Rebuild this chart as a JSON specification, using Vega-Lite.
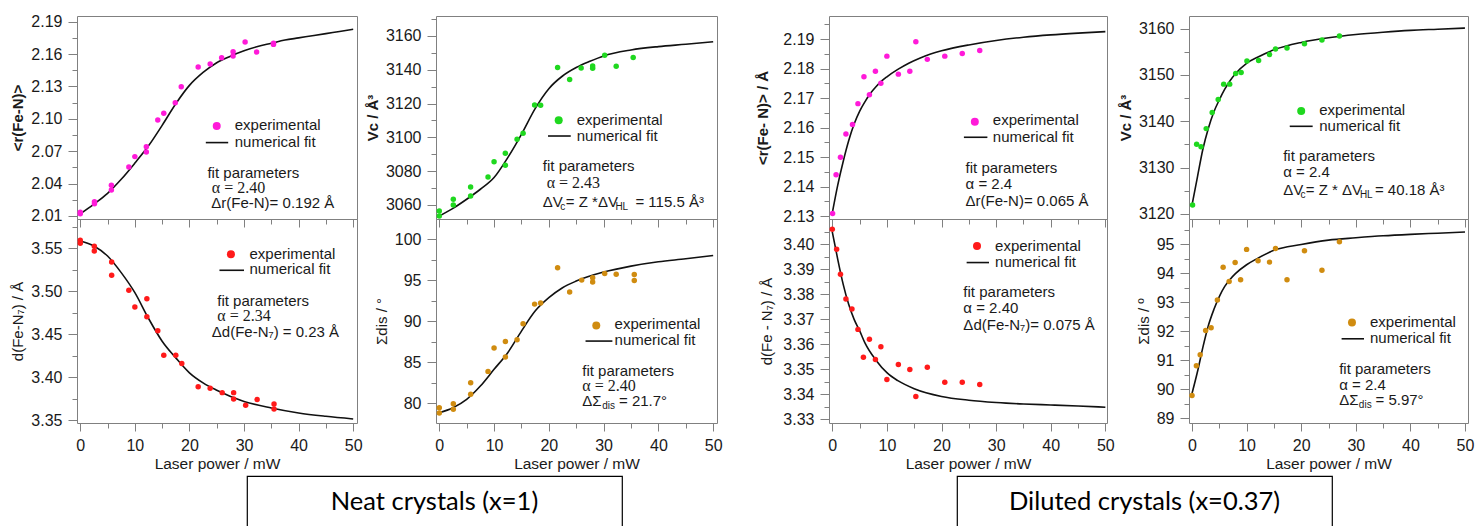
{
  "$schema": "https://vega.github.io/schema/vega-lite/v6.json",
  "padding": {"left": 10, "top": 13, "right": 5, "bottom": 0},
  "config": {
    "font": "Liberation Sans",
    "view": {"stroke": "#808080", "strokeWidth": 1},
    "axis": {"domain": false, "grid": false, "tickColor": "#808080", "tickWidth": 1, "labelColor": "#1a1a1a", "labelFont": "Liberation Sans", "labelFontSize": 16, "titleFont": "Liberation Sans", "titleFontSize": 15, "titleColor": "#1a1a1a", "titleFontWeight": "normal"},
    "axisY": {"labelPadding": 6, "titlePadding": 5},
    "axisX": {"labelPadding": 6, "titlePadding": 3, "titleFontSize": 15.5},
    "text": {"font": "Liberation Sans", "fontSize": 15, "color": "#1a1a1a", "align": "left", "baseline": "middle"},
    "line": {"color": "#111", "strokeWidth": 1.6, "interpolate": "monotone"},
    "rule": {"color": "#111", "strokeWidth": 1.6},
    "point": {"filled": true, "opacity": 1, "size": 30}
  },
  "datasets": {
    "pts": [
      {"p": "A", "x": 0, "y": 2.012}, {"p": "A", "x": 0, "y": 2.0135}, {"p": "A", "x": 2.6, "y": 2.0233}, {"p": "A", "x": 2.6, "y": 2.0214},
      {"p": "A", "x": 5.7, "y": 2.0384}, {"p": "A", "x": 5.7, "y": 2.0341}, {"p": "A", "x": 8.9, "y": 2.0554}, {"p": "A", "x": 10.0, "y": 2.065},
      {"p": "A", "x": 12.1, "y": 2.0742}, {"p": "A", "x": 12.1, "y": 2.0693}, {"p": "A", "x": 14.2, "y": 2.0989}, {"p": "A", "x": 15.3, "y": 2.1051},
      {"p": "A", "x": 17.4, "y": 2.115}, {"p": "A", "x": 18.5, "y": 2.1298}, {"p": "A", "x": 21.6, "y": 2.148}, {"p": "A", "x": 23.8, "y": 2.1508},
      {"p": "A", "x": 25.9, "y": 2.1567}, {"p": "A", "x": 28.0, "y": 2.1622}, {"p": "A", "x": 28.0, "y": 2.1582}, {"p": "A", "x": 30.2, "y": 2.1712},
      {"p": "A", "x": 32.3, "y": 2.1619}, {"p": "A", "x": 35.4, "y": 2.170}, {"p": "A", "x": 35.4, "y": 2.169},

      {"p": "B", "x": 0, "y": 3056.4}, {"p": "B", "x": 0, "y": 3053.5}, {"p": "B", "x": 2.56, "y": 3063.4}, {"p": "B", "x": 2.56, "y": 3060.0},
      {"p": "B", "x": 5.72, "y": 3070.6}, {"p": "B", "x": 5.72, "y": 3065.3}, {"p": "B", "x": 8.9, "y": 3076.6}, {"p": "B", "x": 10.0, "y": 3085.6},
      {"p": "B", "x": 12.06, "y": 3090.6}, {"p": "B", "x": 12.06, "y": 3083.5}, {"p": "B", "x": 14.2, "y": 3098.9}, {"p": "B", "x": 15.3, "y": 3102.4},
      {"p": "B", "x": 17.4, "y": 3119.2}, {"p": "B", "x": 18.5, "y": 3119.0}, {"p": "B", "x": 21.6, "y": 3141.3}, {"p": "B", "x": 23.8, "y": 3134.2},
      {"p": "B", "x": 25.9, "y": 3141.1}, {"p": "B", "x": 28.0, "y": 3142.2}, {"p": "B", "x": 28.0, "y": 3140.9}, {"p": "B", "x": 30.2, "y": 3148.6},
      {"p": "B", "x": 32.3, "y": 3142.1}, {"p": "B", "x": 35.4, "y": 3147.2},

      {"p": "C", "x": 0.06, "y": 2.1309}, {"p": "C", "x": 0.7, "y": 2.144}, {"p": "C", "x": 1.5, "y": 2.1499}, {"p": "C", "x": 2.5, "y": 2.1578},
      {"p": "C", "x": 3.7, "y": 2.161}, {"p": "C", "x": 4.7, "y": 2.1681}, {"p": "C", "x": 5.8, "y": 2.1772}, {"p": "C", "x": 6.8, "y": 2.1711},
      {"p": "C", "x": 7.9, "y": 2.1791}, {"p": "C", "x": 8.9, "y": 2.175}, {"p": "C", "x": 10.0, "y": 2.1842}, {"p": "C", "x": 12.1, "y": 2.1781},
      {"p": "C", "x": 14.2, "y": 2.1791}, {"p": "C", "x": 15.3, "y": 2.1891}, {"p": "C", "x": 17.4, "y": 2.1831}, {"p": "C", "x": 20.6, "y": 2.1842},
      {"p": "C", "x": 23.8, "y": 2.1851}, {"p": "C", "x": 27.0, "y": 2.1861},

      {"p": "D", "x": 0.1, "y": 3121.9}, {"p": "D", "x": 0.85, "y": 3135.05}, {"p": "D", "x": 1.65, "y": 3134.5}, {"p": "D", "x": 2.6, "y": 3138.4},
      {"p": "D", "x": 3.7, "y": 3141.9}, {"p": "D", "x": 4.8, "y": 3144.7}, {"p": "D", "x": 5.8, "y": 3148.0}, {"p": "D", "x": 6.9, "y": 3148.0},
      {"p": "D", "x": 8.0, "y": 3150.3}, {"p": "D", "x": 9.0, "y": 3150.5}, {"p": "D", "x": 10.06, "y": 3153.0}, {"p": "D", "x": 12.2, "y": 3153.1},
      {"p": "D", "x": 14.2, "y": 3154.4}, {"p": "D", "x": 15.3, "y": 3155.6}, {"p": "D", "x": 17.4, "y": 3155.8}, {"p": "D", "x": 20.6, "y": 3156.7},
      {"p": "D", "x": 23.8, "y": 3157.5}, {"p": "D", "x": 27.0, "y": 3158.4},

      {"p": "E", "x": 0, "y": 3.5593}, {"p": "E", "x": 0, "y": 3.5558}, {"p": "E", "x": 2.57, "y": 3.5523}, {"p": "E", "x": 2.57, "y": 3.5469},
      {"p": "E", "x": 5.75, "y": 3.5341}, {"p": "E", "x": 5.75, "y": 3.5185}, {"p": "E", "x": 8.9, "y": 3.5011}, {"p": "E", "x": 10.0, "y": 3.4817},
      {"p": "E", "x": 12.2, "y": 3.4914}, {"p": "E", "x": 12.2, "y": 3.4704}, {"p": "E", "x": 14.2, "y": 3.4541}, {"p": "E", "x": 15.3, "y": 3.4257},
      {"p": "E", "x": 17.5, "y": 3.4257}, {"p": "E", "x": 18.6, "y": 3.416}, {"p": "E", "x": 21.6, "y": 3.3889}, {"p": "E", "x": 23.8, "y": 3.3873},
      {"p": "E", "x": 26.0, "y": 3.3822}, {"p": "E", "x": 28.1, "y": 3.3822}, {"p": "E", "x": 28.1, "y": 3.3749}, {"p": "E", "x": 30.3, "y": 3.3675},
      {"p": "E", "x": 32.4, "y": 3.3741}, {"p": "E", "x": 35.5, "y": 3.369}, {"p": "E", "x": 35.5, "y": 3.3632},

      {"p": "F", "x": 0, "y": 79.47}, {"p": "F", "x": 0, "y": 78.82}, {"p": "F", "x": 2.56, "y": 79.96}, {"p": "F", "x": 2.56, "y": 79.27},
      {"p": "F", "x": 5.73, "y": 82.52}, {"p": "F", "x": 5.73, "y": 81.10}, {"p": "F", "x": 8.9, "y": 83.90}, {"p": "F", "x": 10.0, "y": 86.75},
      {"p": "F", "x": 12.07, "y": 87.56}, {"p": "F", "x": 12.07, "y": 85.65}, {"p": "F", "x": 14.2, "y": 87.76}, {"p": "F", "x": 15.3, "y": 89.72},
      {"p": "F", "x": 17.4, "y": 92.11}, {"p": "F", "x": 18.5, "y": 92.24}, {"p": "F", "x": 21.6, "y": 96.54}, {"p": "F", "x": 23.8, "y": 93.58},
      {"p": "F", "x": 26.0, "y": 95.04}, {"p": "F", "x": 28.0, "y": 95.33}, {"p": "F", "x": 28.0, "y": 94.80}, {"p": "F", "x": 30.2, "y": 95.85},
      {"p": "F", "x": 32.3, "y": 95.77}, {"p": "F", "x": 35.6, "y": 95.73}, {"p": "F", "x": 35.6, "y": 95.0},

      {"p": "G", "x": 0, "y": 3.406}, {"p": "G", "x": 0.8, "y": 3.398}, {"p": "G", "x": 1.5, "y": 3.388}, {"p": "G", "x": 2.5, "y": 3.3781},
      {"p": "G", "x": 3.6, "y": 3.3741}, {"p": "G", "x": 4.7, "y": 3.366}, {"p": "G", "x": 5.7, "y": 3.3549}, {"p": "G", "x": 6.8, "y": 3.3621},
      {"p": "G", "x": 7.9, "y": 3.354}, {"p": "G", "x": 8.9, "y": 3.3591}, {"p": "G", "x": 10.0, "y": 3.346}, {"p": "G", "x": 12.1, "y": 3.352},
      {"p": "G", "x": 14.2, "y": 3.35}, {"p": "G", "x": 15.3, "y": 3.3392}, {"p": "G", "x": 17.4, "y": 3.3509}, {"p": "G", "x": 20.6, "y": 3.3449},
      {"p": "G", "x": 23.8, "y": 3.3449}, {"p": "G", "x": 27.0, "y": 3.344},

      {"p": "H", "x": 0, "y": 89.78}, {"p": "H", "x": 0.8, "y": 90.81}, {"p": "H", "x": 1.5, "y": 91.19}, {"p": "H", "x": 2.5, "y": 92.03},
      {"p": "H", "x": 3.5, "y": 92.12}, {"p": "H", "x": 4.65, "y": 93.08}, {"p": "H", "x": 5.7, "y": 94.21}, {"p": "H", "x": 6.8, "y": 93.72},
      {"p": "H", "x": 7.9, "y": 94.38}, {"p": "H", "x": 8.9, "y": 93.78}, {"p": "H", "x": 10.0, "y": 94.83}, {"p": "H", "x": 12.1, "y": 94.44},
      {"p": "H", "x": 14.2, "y": 94.39}, {"p": "H", "x": 15.3, "y": 94.86}, {"p": "H", "x": 17.4, "y": 93.78}, {"p": "H", "x": 20.6, "y": 94.78},
      {"p": "H", "x": 23.8, "y": 94.11}, {"p": "H", "x": 27.0, "y": 95.09}
    ],
    "fit": [
      {"p": "A", "x": 0, "y": 2.012}, {"p": "A", "x": 2.5, "y": 2.021}, {"p": "A", "x": 5, "y": 2.031}, {"p": "A", "x": 7.5, "y": 2.044},
      {"p": "A", "x": 10, "y": 2.059}, {"p": "A", "x": 12.5, "y": 2.075}, {"p": "A", "x": 15, "y": 2.094}, {"p": "A", "x": 17.5, "y": 2.114},
      {"p": "A", "x": 20, "y": 2.131}, {"p": "A", "x": 22.5, "y": 2.143}, {"p": "A", "x": 25, "y": 2.152}, {"p": "A", "x": 27.5, "y": 2.158},
      {"p": "A", "x": 30, "y": 2.163}, {"p": "A", "x": 32.5, "y": 2.167}, {"p": "A", "x": 35, "y": 2.170}, {"p": "A", "x": 37.5, "y": 2.173},
      {"p": "A", "x": 40, "y": 2.175}, {"p": "A", "x": 42.5, "y": 2.177}, {"p": "A", "x": 45, "y": 2.179}, {"p": "A", "x": 47.5, "y": 2.181},
      {"p": "A", "x": 50, "y": 2.183},

      {"p": "B", "x": 0, "y": 3053.5}, {"p": "B", "x": 2.5, "y": 3058.0}, {"p": "B", "x": 5, "y": 3063.4}, {"p": "B", "x": 7.5, "y": 3069.3},
      {"p": "B", "x": 10, "y": 3076.2}, {"p": "B", "x": 12.5, "y": 3088.0}, {"p": "B", "x": 15, "y": 3101.8}, {"p": "B", "x": 17.5, "y": 3117.0},
      {"p": "B", "x": 20, "y": 3128.8}, {"p": "B", "x": 22.5, "y": 3136.3}, {"p": "B", "x": 25, "y": 3141.3}, {"p": "B", "x": 27.5, "y": 3145.0},
      {"p": "B", "x": 30, "y": 3148.2}, {"p": "B", "x": 35, "y": 3151.7}, {"p": "B", "x": 40, "y": 3153.7}, {"p": "B", "x": 45, "y": 3155.1},
      {"p": "B", "x": 50, "y": 3156.6},

      {"p": "C", "x": 0, "y": 2.131}, {"p": "C", "x": 1, "y": 2.1405}, {"p": "C", "x": 2, "y": 2.1485}, {"p": "C", "x": 3, "y": 2.1555},
      {"p": "C", "x": 4, "y": 2.1612}, {"p": "C", "x": 5, "y": 2.1655}, {"p": "C", "x": 6, "y": 2.1688}, {"p": "C", "x": 7, "y": 2.1716},
      {"p": "C", "x": 8, "y": 2.1738}, {"p": "C", "x": 9, "y": 2.1757}, {"p": "C", "x": 10, "y": 2.1772}, {"p": "C", "x": 12, "y": 2.1797},
      {"p": "C", "x": 14, "y": 2.1818}, {"p": "C", "x": 16, "y": 2.1835}, {"p": "C", "x": 18, "y": 2.1849}, {"p": "C", "x": 20, "y": 2.186},
      {"p": "C", "x": 25, "y": 2.188}, {"p": "C", "x": 30, "y": 2.1895}, {"p": "C", "x": 35, "y": 2.1906}, {"p": "C", "x": 40, "y": 2.1914},
      {"p": "C", "x": 45, "y": 2.192}, {"p": "C", "x": 50, "y": 2.1925},

      {"p": "D", "x": 0, "y": 3121.9}, {"p": "D", "x": 1, "y": 3128.0}, {"p": "D", "x": 2, "y": 3134.0}, {"p": "D", "x": 3, "y": 3138.5},
      {"p": "D", "x": 4, "y": 3142.0}, {"p": "D", "x": 5, "y": 3144.6}, {"p": "D", "x": 6, "y": 3146.9}, {"p": "D", "x": 7, "y": 3148.8},
      {"p": "D", "x": 8, "y": 3150.3}, {"p": "D", "x": 10, "y": 3152.5}, {"p": "D", "x": 12, "y": 3153.8}, {"p": "D", "x": 15, "y": 3155.4},
      {"p": "D", "x": 20, "y": 3157.0}, {"p": "D", "x": 25, "y": 3158.0}, {"p": "D", "x": 30, "y": 3158.7}, {"p": "D", "x": 35, "y": 3159.2},
      {"p": "D", "x": 40, "y": 3159.6}, {"p": "D", "x": 45, "y": 3159.85}, {"p": "D", "x": 50, "y": 3160.1},

      {"p": "E", "x": 0, "y": 3.5585}, {"p": "E", "x": 2.5, "y": 3.5527}, {"p": "E", "x": 5, "y": 3.541}, {"p": "E", "x": 7.5, "y": 3.5217},
      {"p": "E", "x": 10, "y": 3.4984}, {"p": "E", "x": 12.5, "y": 3.4685}, {"p": "E", "x": 15, "y": 3.442}, {"p": "E", "x": 17.5, "y": 3.4226},
      {"p": "E", "x": 20, "y": 3.4052}, {"p": "E", "x": 22.5, "y": 3.3935}, {"p": "E", "x": 25, "y": 3.385}, {"p": "E", "x": 30, "y": 3.372},
      {"p": "E", "x": 35, "y": 3.3644}, {"p": "E", "x": 40, "y": 3.3586}, {"p": "E", "x": 45, "y": 3.3547}, {"p": "E", "x": 50, "y": 3.3516},

      {"p": "F", "x": 0, "y": 78.86}, {"p": "F", "x": 2.5, "y": 79.47}, {"p": "F", "x": 5, "y": 80.49}, {"p": "F", "x": 7.5, "y": 82.11},
      {"p": "F", "x": 10, "y": 84.15}, {"p": "F", "x": 12.5, "y": 86.18}, {"p": "F", "x": 15, "y": 88.82}, {"p": "F", "x": 17.5, "y": 91.26},
      {"p": "F", "x": 20, "y": 92.89}, {"p": "F", "x": 22.5, "y": 94.11}, {"p": "F", "x": 25, "y": 94.92}, {"p": "F", "x": 30, "y": 96.02},
      {"p": "F", "x": 35, "y": 96.75}, {"p": "F", "x": 40, "y": 97.28}, {"p": "F", "x": 45, "y": 97.64}, {"p": "F", "x": 50, "y": 98.05},

      {"p": "G", "x": 0, "y": 3.405}, {"p": "G", "x": 1, "y": 3.394}, {"p": "G", "x": 2, "y": 3.384}, {"p": "G", "x": 3, "y": 3.376},
      {"p": "G", "x": 4, "y": 3.370}, {"p": "G", "x": 5, "y": 3.3655}, {"p": "G", "x": 6, "y": 3.3605}, {"p": "G", "x": 8, "y": 3.3537},
      {"p": "G", "x": 10, "y": 3.3487}, {"p": "G", "x": 12, "y": 3.3455}, {"p": "G", "x": 15, "y": 3.3423}, {"p": "G", "x": 20, "y": 3.3392},
      {"p": "G", "x": 25, "y": 3.3377}, {"p": "G", "x": 30, "y": 3.3368}, {"p": "G", "x": 35, "y": 3.3362}, {"p": "G", "x": 40, "y": 3.3358},
      {"p": "G", "x": 45, "y": 3.3354}, {"p": "G", "x": 50, "y": 3.3349},

      {"p": "H", "x": 0, "y": 89.85}, {"p": "H", "x": 1, "y": 90.6}, {"p": "H", "x": 2, "y": 91.45}, {"p": "H", "x": 3, "y": 92.2},
      {"p": "H", "x": 4, "y": 92.75}, {"p": "H", "x": 5, "y": 93.2}, {"p": "H", "x": 6, "y": 93.55}, {"p": "H", "x": 7, "y": 93.8},
      {"p": "H", "x": 8, "y": 94.0}, {"p": "H", "x": 10, "y": 94.3}, {"p": "H", "x": 12, "y": 94.52}, {"p": "H", "x": 15, "y": 94.8},
      {"p": "H", "x": 20, "y": 95.0}, {"p": "H", "x": 25, "y": 95.15}, {"p": "H", "x": 30, "y": 95.23}, {"p": "H", "x": 35, "y": 95.3},
      {"p": "H", "x": 40, "y": 95.35}, {"p": "H", "x": 45, "y": 95.39}, {"p": "H", "x": 50, "y": 95.43}
    ],
    "notes": [
      {"p": "A", "x": 28.3, "y": 2.094, "t": "experimental"}, {"p": "A", "x": 28.3, "y": 2.0789, "t": "numerical fit"},
      {"p": "A", "x": 23.3, "y": 2.0497, "t": "fit parameters"},
      {"p": "A", "x": 24.0, "y": 2.0220, "t": "Δr(Fe-N)= 0.192 Å"},
      {"p": "B", "x": 25.1, "y": 3110.1, "t": "experimental"}, {"p": "B", "x": 25.1, "y": 3100.8, "t": "numerical fit"},
      {"p": "B", "x": 18.9, "y": 3083.2, "t": "fit parameters"},
      {"p": "B", "x": 18.9, "y": 3062.0, "t": "ΔV"}, {"p": "B", "x": 23.1, "y": 3062.0, "t": "= Z *ΔV"}, {"p": "B", "x": 35.8, "y": 3062.0, "t": "= 115.5 Å³"},
      {"p": "C", "x": 29.4, "y": 2.1624, "t": "experimental"}, {"p": "C", "x": 29.4, "y": 2.1569, "t": "numerical fit"},
      {"p": "C", "x": 24.4, "y": 2.1463, "t": "fit parameters"}, {"p": "C", "x": 24.4, "y": 2.141, "t": "α = 2.4"},
      {"p": "C", "x": 24.4, "y": 2.1351, "t": "Δr(Fe-N)= 0.065 Å"},
      {"p": "D", "x": 23.3, "y": 3142.4, "t": "experimental"}, {"p": "D", "x": 23.3, "y": 3138.9, "t": "numerical fit"},
      {"p": "D", "x": 16.7, "y": 3132.4, "t": "fit parameters"}, {"p": "D", "x": 16.7, "y": 3129.0, "t": "α = 2.4"},
      {"p": "D", "x": 16.7, "y": 3125.1, "t": "ΔV"}, {"p": "D", "x": 20.85, "y": 3125.1, "t": "=  Z * ΔV"}, {"p": "D", "x": 33.5, "y": 3125.1, "t": "= 40.18 Å³"},
      {"p": "E", "x": 31.0, "y": 3.5438, "t": "experimental"}, {"p": "E", "x": 31.0, "y": 3.5255, "t": "numerical fit"},
      {"p": "E", "x": 25.1, "y": 3.4885, "t": "fit parameters"},
      {"p": "E", "x": 24.1, "y": 3.4530, "t": "Δd(Fe-N₇) = 0.23 Å"},
      {"p": "F", "x": 32.0, "y": 89.63, "t": "experimental"}, {"p": "F", "x": 32.0, "y": 87.68, "t": "numerical fit"},
      {"p": "F", "x": 26.1, "y": 83.9, "t": "fit parameters"},
      {"p": "F", "x": 26.1, "y": 80.3, "t": "ΔΣ"}, {"p": "F", "x": 32.8, "y": 80.3, "t": "= 21.7°"},
      {"p": "G", "x": 29.8, "y": 3.3993, "t": "experimental"}, {"p": "G", "x": 29.8, "y": 3.393, "t": "numerical fit"},
      {"p": "G", "x": 24.0, "y": 3.381, "t": "fit parameters"}, {"p": "G", "x": 24.0, "y": 3.3744, "t": "α = 2.40"},
      {"p": "G", "x": 24.0, "y": 3.3677, "t": "Δd(Fe-N₇)= 0.075 Å"},
      {"p": "H", "x": 32.6, "y": 92.32, "t": "experimental"}, {"p": "H", "x": 32.6, "y": 91.76, "t": "numerical fit"},
      {"p": "H", "x": 26.95, "y": 90.69, "t": "fit parameters"}, {"p": "H", "x": 26.95, "y": 90.13, "t": "α = 2.4"},
      {"p": "H", "x": 26.95, "y": 89.62, "t": "ΔΣ"}, {"p": "H", "x": 33.6, "y": 89.62, "t": "= 5.97°"}
    ],
    "serif": [
      {"p": "A", "x": 24.1, "y": 2.0363, "t": "α = 2.40"},
      {"p": "B", "x": 19.6, "y": 3073.2, "t": "α = 2.43"},
      {"p": "E", "x": 25.1, "y": 3.4712, "t": "α = 2.34"},
      {"p": "F", "x": 26.1, "y": 82.1, "t": "α = 2.40"}
    ],
    "subs": [
      {"p": "B", "x": 22.1, "y": 3062.0, "t": "c"}, {"p": "B", "x": 32.15, "y": 3062.0, "t": "HL"},
      {"p": "D", "x": 19.88, "y": 3125.1, "t": "c"}, {"p": "D", "x": 30.75, "y": 3125.1, "t": "HL"},
      {"p": "F", "x": 29.75, "y": 80.3, "t": "dis"},
      {"p": "H", "x": 30.56, "y": 89.62, "t": "dis"}
    ],
    "keys": [
      {"p": "A", "x": 25.0, "y": 2.0934, "x1": 23.0, "x2": 27.1, "y2": 2.078},
      {"p": "B", "x": 21.8, "y": 3110.1, "x1": 19.85, "x2": 24.0, "y2": 3100.8},
      {"p": "C", "x": 26.1, "y": 2.162, "x1": 24.1, "x2": 28.4, "y2": 2.1567},
      {"p": "D", "x": 20.0, "y": 3142.2, "x1": 17.9, "x2": 22.1, "y2": 3138.9},
      {"p": "E", "x": 27.6, "y": 3.543, "x1": 25.5, "x2": 30.0, "y2": 3.5244},
      {"p": "F", "x": 28.66, "y": 89.51, "x1": 26.7, "x2": 31.6, "y2": 87.6},
      {"p": "G", "x": 26.5, "y": 3.3993, "x1": 24.6, "x2": 28.7, "y2": 3.3927},
      {"p": "H", "x": 29.3, "y": 92.30, "x1": 27.4, "x2": 31.5, "y2": 91.74}
    ],
    "boxes": [{"t": "Neat crystals (x=1)"}, {"t": "Diluted crystals (x=0.37)"}]
  },
  "vconcat": [
    {
      "concat": [
        {
          "width": 280, "height": 203,
          "encoding": {
            "x": {"field": "x", "type": "quantitative", "scale": {"domain": [-0.6, 50.7], "nice": false, "zero": false},
              "axis": {"values": [0,5,10,15,20,25,30,35,40,45,50], "labels": false, "title": null, "tickSize": {"condition": {"test": "datum.value % 10 === 0", "value": 8}, "value": 5}}},
            "y": {"field": "y", "type": "quantitative", "scale": {"domain": [2.0072, 2.1953], "nice": false, "zero": false},
              "axis": {"title": "<r(Fe-N)>", "titleFontWeight": "bold", "values": [2.01,2.025,2.04,2.055,2.07,2.085,2.1,2.115,2.13,2.145,2.16,2.175,2.19],
                "labelExpr": "round(datum.value*1000) % 30 === 0 ? format(datum.value, '.2f') : ''",
                "tickSize": {"condition": {"test": "round(datum.value*1000) % 30 === 0", "value": 9}, "value": 5}}}
          },
          "layer": [
            {"data": {"name": "fit"}, "transform": [{"filter": "datum.p === 'A'"}], "mark": "line"},
            {"data": {"name": "pts"}, "transform": [{"filter": "datum.p === 'A'"}], "mark": {"type": "point", "color": "#ff1ad9"}},
            {"data": {"name": "keys"}, "transform": [{"filter": "datum.p === 'A'"}], "mark": {"type": "point", "color": "#ff1ad9", "size": 64}},
            {"data": {"name": "keys"}, "transform": [{"filter": "datum.p === 'A'"}], "mark": "rule", "encoding": {"x": {"field": "x1", "type": "quantitative"}, "x2": {"field": "x2"}, "y": {"field": "y2", "type": "quantitative"}}},
            {"data": {"name": "notes"}, "transform": [{"filter": "datum.p === 'A'"}], "mark": "text", "encoding": {"text": {"field": "t"}}},
            {"data": {"name": "serif"}, "transform": [{"filter": "datum.p === 'A'"}], "mark": {"type": "text", "font": "Liberation Serif", "fontSize": 16}, "encoding": {"text": {"field": "t"}}}
          ]
        },
        {"width": 79, "height": 1, "view": {"stroke": null}, "data": {"name": "boxes"}, "transform": [{"filter": "false"}], "mark": "text", "encoding": {"text": {"field": "t"}}},
        {
          "width": 281, "height": 203,
          "encoding": {
            "x": {"field": "x", "type": "quantitative", "scale": {"domain": [-0.6, 50.7], "nice": false, "zero": false},
              "axis": {"values": [0,5,10,15,20,25,30,35,40,45,50], "labels": false, "title": null, "tickSize": {"condition": {"test": "datum.value % 10 === 0", "value": 8}, "value": 5}}},
            "y": {"field": "y", "type": "quantitative", "scale": {"domain": [3051.7, 3171.8], "nice": false, "zero": false},
              "axis": {"title": "Vc / Å³", "titleFontWeight": "bold", "values": [3060,3070,3080,3090,3100,3110,3120,3130,3140,3150,3160,3170],
                "labelExpr": "datum.value % 20 === 0 ? format(datum.value, 'd') : ''",
                "tickSize": {"condition": {"test": "datum.value % 20 === 0", "value": 9}, "value": 5}}}
          },
          "layer": [
            {"data": {"name": "fit"}, "transform": [{"filter": "datum.p === 'B'"}], "mark": "line"},
            {"data": {"name": "pts"}, "transform": [{"filter": "datum.p === 'B'"}], "mark": {"type": "point", "color": "#1fd81f"}},
            {"data": {"name": "keys"}, "transform": [{"filter": "datum.p === 'B'"}], "mark": {"type": "point", "color": "#1fd81f", "size": 64}},
            {"data": {"name": "keys"}, "transform": [{"filter": "datum.p === 'B'"}], "mark": "rule", "encoding": {"x": {"field": "x1", "type": "quantitative"}, "x2": {"field": "x2"}, "y": {"field": "y2", "type": "quantitative"}}},
            {"data": {"name": "notes"}, "transform": [{"filter": "datum.p === 'B'"}], "mark": "text", "encoding": {"text": {"field": "t"}}},
            {"data": {"name": "serif"}, "transform": [{"filter": "datum.p === 'B'"}], "mark": {"type": "text", "font": "Liberation Serif", "fontSize": 16}, "encoding": {"text": {"field": "t"}}},
            {"data": {"name": "subs"}, "transform": [{"filter": "datum.p === 'B'"}], "mark": {"type": "text", "fontSize": 10, "dy": 5}, "encoding": {"text": {"field": "t"}}}
          ]
        },
        {"width": 112, "height": 1, "view": {"stroke": null}, "data": {"name": "boxes"}, "transform": [{"filter": "false"}], "mark": "text", "encoding": {"text": {"field": "t"}}},
        {
          "width": 278, "height": 203,
          "encoding": {
            "x": {"field": "x", "type": "quantitative", "scale": {"domain": [-0.6, 50.3], "nice": false, "zero": false},
              "axis": {"values": [0,5,10,15,20,25,30,35,40,45,50], "labels": false, "title": null, "tickSize": {"condition": {"test": "datum.value % 10 === 0", "value": 8}, "value": 5}}},
            "y": {"field": "y", "type": "quantitative", "scale": {"domain": [2.129, 2.1978], "nice": false, "zero": false},
              "axis": {"title": "<r(Fe- N)> / Å", "titleFontWeight": "bold", "titlePadding": 12, "values": [2.13,2.135,2.14,2.145,2.15,2.155,2.16,2.165,2.17,2.175,2.18,2.185,2.19,2.195],
                "labelExpr": "round(datum.value*1000) % 10 === 0 ? format(datum.value, '.2f') : ''",
                "tickSize": {"condition": {"test": "round(datum.value*1000) % 10 === 0", "value": 9}, "value": 5}}}
          },
          "layer": [
            {"data": {"name": "fit"}, "transform": [{"filter": "datum.p === 'C'"}], "mark": "line"},
            {"data": {"name": "pts"}, "transform": [{"filter": "datum.p === 'C'"}], "mark": {"type": "point", "color": "#ff1ad9"}},
            {"data": {"name": "keys"}, "transform": [{"filter": "datum.p === 'C'"}], "mark": {"type": "point", "color": "#ff1ad9", "size": 64}},
            {"data": {"name": "keys"}, "transform": [{"filter": "datum.p === 'C'"}], "mark": "rule", "encoding": {"x": {"field": "x1", "type": "quantitative"}, "x2": {"field": "x2"}, "y": {"field": "y2", "type": "quantitative"}}},
            {"data": {"name": "notes"}, "transform": [{"filter": "datum.p === 'C'"}], "mark": "text", "encoding": {"text": {"field": "t"}}}
          ]
        },
        {"width": 82, "height": 1, "view": {"stroke": null}, "data": {"name": "boxes"}, "transform": [{"filter": "false"}], "mark": "text", "encoding": {"text": {"field": "t"}}},
        {
          "width": 279, "height": 203,
          "encoding": {
            "x": {"field": "x", "type": "quantitative", "scale": {"domain": [-0.55, 50.55], "nice": false, "zero": false},
              "axis": {"values": [0,5,10,15,20,25,30,35,40,45,50], "labels": false, "title": null, "tickSize": {"condition": {"test": "datum.value % 10 === 0", "value": 8}, "value": 5}}},
            "y": {"field": "y", "type": "quantitative", "scale": {"domain": [3118.9, 3162.7], "nice": false, "zero": false},
              "axis": {"title": "Vc / Å³", "titleFontWeight": "bold", "values": [3120,3125,3130,3135,3140,3145,3150,3155,3160],
                "labelExpr": "datum.value % 10 === 0 ? format(datum.value, 'd') : ''",
                "tickSize": {"condition": {"test": "datum.value % 10 === 0", "value": 9}, "value": 5}}}
          },
          "layer": [
            {"data": {"name": "fit"}, "transform": [{"filter": "datum.p === 'D'"}], "mark": "line"},
            {"data": {"name": "pts"}, "transform": [{"filter": "datum.p === 'D'"}], "mark": {"type": "point", "color": "#1fd81f"}},
            {"data": {"name": "keys"}, "transform": [{"filter": "datum.p === 'D'"}], "mark": {"type": "point", "color": "#1fd81f", "size": 64}},
            {"data": {"name": "keys"}, "transform": [{"filter": "datum.p === 'D'"}], "mark": "rule", "encoding": {"x": {"field": "x1", "type": "quantitative"}, "x2": {"field": "x2"}, "y": {"field": "y2", "type": "quantitative"}}},
            {"data": {"name": "notes"}, "transform": [{"filter": "datum.p === 'D'"}], "mark": "text", "encoding": {"text": {"field": "t"}}},
            {"data": {"name": "subs"}, "transform": [{"filter": "datum.p === 'D'"}], "mark": {"type": "text", "fontSize": 10, "dy": 5}, "encoding": {"text": {"field": "t"}}}
          ]
        },
        {
          "width": 280, "height": 204,
          "encoding": {
            "x": {"field": "x", "type": "quantitative", "scale": {"domain": [-0.6, 50.7], "nice": false, "zero": false},
              "axis": {"values": [0,5,10,15,20,25,30,35,40,45,50], "title": "Laser power / mW", "labelExpr": "datum.value % 10 === 0 ? datum.label : ''", "tickSize": {"condition": {"test": "datum.value % 10 === 0", "value": 8}, "value": 5}}},
            "y": {"field": "y", "type": "quantitative", "scale": {"domain": [3.3469, 3.584], "nice": false, "zero": false},
              "axis": {"title": "d(Fe-N₇) / Å", "values": [3.35,3.375,3.4,3.425,3.45,3.475,3.5,3.525,3.55,3.575],
                "labelExpr": "round(datum.value*1000) % 50 === 0 ? format(datum.value, '.2f') : ''",
                "tickSize": {"condition": {"test": "round(datum.value*1000) % 50 === 0", "value": 9}, "value": 5}}}
          },
          "layer": [
            {"data": {"name": "fit"}, "transform": [{"filter": "datum.p === 'E'"}], "mark": "line"},
            {"data": {"name": "pts"}, "transform": [{"filter": "datum.p === 'E'"}], "mark": {"type": "point", "color": "#ff1a1a"}},
            {"data": {"name": "keys"}, "transform": [{"filter": "datum.p === 'E'"}], "mark": {"type": "point", "color": "#ff1a1a", "size": 64}},
            {"data": {"name": "keys"}, "transform": [{"filter": "datum.p === 'E'"}], "mark": "rule", "encoding": {"x": {"field": "x1", "type": "quantitative"}, "x2": {"field": "x2"}, "y": {"field": "y2", "type": "quantitative"}}},
            {"data": {"name": "notes"}, "transform": [{"filter": "datum.p === 'E'"}], "mark": "text", "encoding": {"text": {"field": "t"}}},
            {"data": {"name": "serif"}, "transform": [{"filter": "datum.p === 'E'"}], "mark": {"type": "text", "font": "Liberation Serif", "fontSize": 16}, "encoding": {"text": {"field": "t"}}}
          ]
        },
        {"width": 79, "height": 1, "view": {"stroke": null}, "data": {"name": "boxes"}, "transform": [{"filter": "false"}], "mark": "text", "encoding": {"text": {"field": "t"}}},
        {
          "width": 281, "height": 204,
          "encoding": {
            "x": {"field": "x", "type": "quantitative", "scale": {"domain": [-0.6, 50.7], "nice": false, "zero": false},
              "axis": {"values": [0,5,10,15,20,25,30,35,40,45,50], "title": "Laser power / mW", "labelExpr": "datum.value % 10 === 0 ? datum.label : ''", "tickSize": {"condition": {"test": "datum.value % 10 === 0", "value": 8}, "value": 5}}},
            "y": {"field": "y", "type": "quantitative", "scale": {"domain": [77.6, 102.5], "nice": false, "zero": false},
              "axis": {"title": "Σdis / °", "values": [80,82.5,85,87.5,90,92.5,95,97.5,100],
                "labelExpr": "datum.value % 5 === 0 ? format(datum.value, 'd') : ''",
                "tickSize": {"condition": {"test": "datum.value % 5 === 0", "value": 9}, "value": 5}}}
          },
          "layer": [
            {"data": {"name": "fit"}, "transform": [{"filter": "datum.p === 'F'"}], "mark": "line"},
            {"data": {"name": "pts"}, "transform": [{"filter": "datum.p === 'F'"}], "mark": {"type": "point", "color": "#d08c10"}},
            {"data": {"name": "keys"}, "transform": [{"filter": "datum.p === 'F'"}], "mark": {"type": "point", "color": "#d08c10", "size": 64}},
            {"data": {"name": "keys"}, "transform": [{"filter": "datum.p === 'F'"}], "mark": "rule", "encoding": {"x": {"field": "x1", "type": "quantitative"}, "x2": {"field": "x2"}, "y": {"field": "y2", "type": "quantitative"}}},
            {"data": {"name": "notes"}, "transform": [{"filter": "datum.p === 'F'"}], "mark": "text", "encoding": {"text": {"field": "t"}}},
            {"data": {"name": "serif"}, "transform": [{"filter": "datum.p === 'F'"}], "mark": {"type": "text", "font": "Liberation Serif", "fontSize": 16}, "encoding": {"text": {"field": "t"}}},
            {"data": {"name": "subs"}, "transform": [{"filter": "datum.p === 'F'"}], "mark": {"type": "text", "fontSize": 10, "dy": 5}, "encoding": {"text": {"field": "t"}}}
          ]
        },
        {"width": 112, "height": 1, "view": {"stroke": null}, "data": {"name": "boxes"}, "transform": [{"filter": "false"}], "mark": "text", "encoding": {"text": {"field": "t"}}},
        {
          "width": 278, "height": 204,
          "encoding": {
            "x": {"field": "x", "type": "quantitative", "scale": {"domain": [-0.6, 50.3], "nice": false, "zero": false},
              "axis": {"values": [0,5,10,15,20,25,30,35,40,45,50], "title": "Laser power / mW", "labelExpr": "datum.value % 10 === 0 ? datum.label : ''", "tickSize": {"condition": {"test": "datum.value % 10 === 0", "value": 8}, "value": 5}}},
            "y": {"field": "y", "type": "quantitative", "scale": {"domain": [3.3286, 3.4101], "nice": false, "zero": false},
              "axis": {"title": "d(Fe - N₇) / Å", "titlePadding": 8, "values": [3.33,3.335,3.34,3.345,3.35,3.355,3.36,3.365,3.37,3.375,3.38,3.385,3.39,3.395,3.4,3.405],
                "labelExpr": "round(datum.value*1000) % 10 === 0 ? format(datum.value, '.2f') : ''",
                "tickSize": {"condition": {"test": "round(datum.value*1000) % 10 === 0", "value": 9}, "value": 5}}}
          },
          "layer": [
            {"data": {"name": "fit"}, "transform": [{"filter": "datum.p === 'G'"}], "mark": "line"},
            {"data": {"name": "pts"}, "transform": [{"filter": "datum.p === 'G'"}], "mark": {"type": "point", "color": "#ff1a1a"}},
            {"data": {"name": "keys"}, "transform": [{"filter": "datum.p === 'G'"}], "mark": {"type": "point", "color": "#ff1a1a", "size": 64}},
            {"data": {"name": "keys"}, "transform": [{"filter": "datum.p === 'G'"}], "mark": "rule", "encoding": {"x": {"field": "x1", "type": "quantitative"}, "x2": {"field": "x2"}, "y": {"field": "y2", "type": "quantitative"}}},
            {"data": {"name": "notes"}, "transform": [{"filter": "datum.p === 'G'"}], "mark": "text", "encoding": {"text": {"field": "t"}}}
          ]
        },
        {"width": 82, "height": 1, "view": {"stroke": null}, "data": {"name": "boxes"}, "transform": [{"filter": "false"}], "mark": "text", "encoding": {"text": {"field": "t"}}},
        {
          "width": 279, "height": 204,
          "encoding": {
            "x": {"field": "x", "type": "quantitative", "scale": {"domain": [-0.55, 50.55], "nice": false, "zero": false},
              "axis": {"values": [0,5,10,15,20,25,30,35,40,45,50], "title": "Laser power / mW", "labelExpr": "datum.value % 10 === 0 ? datum.label : ''", "tickSize": {"condition": {"test": "datum.value % 10 === 0", "value": 8}, "value": 5}}},
            "y": {"field": "y", "type": "quantitative", "scale": {"domain": [88.83, 95.88], "nice": false, "zero": false},
              "axis": {"title": "Σdis / º", "values": [89,89.5,90,90.5,91,91.5,92,92.5,93,93.5,94,94.5,95,95.5],
                "labelExpr": "datum.value % 1 === 0 ? format(datum.value, 'd') : ''",
                "tickSize": {"condition": {"test": "datum.value % 1 === 0", "value": 9}, "value": 5}}}
          },
          "layer": [
            {"data": {"name": "fit"}, "transform": [{"filter": "datum.p === 'H'"}], "mark": "line"},
            {"data": {"name": "pts"}, "transform": [{"filter": "datum.p === 'H'"}], "mark": {"type": "point", "color": "#d08c10"}},
            {"data": {"name": "keys"}, "transform": [{"filter": "datum.p === 'H'"}], "mark": {"type": "point", "color": "#d08c10", "size": 64}},
            {"data": {"name": "keys"}, "transform": [{"filter": "datum.p === 'H'"}], "mark": "rule", "encoding": {"x": {"field": "x1", "type": "quantitative"}, "x2": {"field": "x2"}, "y": {"field": "y2", "type": "quantitative"}}},
            {"data": {"name": "notes"}, "transform": [{"filter": "datum.p === 'H'"}], "mark": "text", "encoding": {"text": {"field": "t"}}},
            {"data": {"name": "subs"}, "transform": [{"filter": "datum.p === 'H'"}], "mark": {"type": "text", "fontSize": 10, "dy": 5}, "encoding": {"text": {"field": "t"}}}
          ]
        }
      ],
      "columns": 7, "spacing": 0, "bounds": "flush", "align": "each"
    },
    {
      "hconcat": [
        {"width": 170, "height": 52, "view": {"stroke": null}, "data": {"name": "boxes"}, "transform": [{"filter": "false"}], "mark": "text", "encoding": {"text": {"field": "t"}}},
        {"width": 375, "height": 52, "view": {"stroke": "#000", "strokeWidth": 1.2}, "data": {"name": "boxes"}, "transform": [{"filter": "datum.t === 'Neat crystals (x=1)'"}],
          "mark": {"type": "text", "font": "Lato", "fontSize": 25.5, "align": "center", "color": "#000"}, "encoding": {"text": {"field": "t"}}},
        {"width": 335, "height": 52, "view": {"stroke": null}, "data": {"name": "boxes"}, "transform": [{"filter": "false"}], "mark": "text", "encoding": {"text": {"field": "t"}}},
        {"width": 375, "height": 52, "view": {"stroke": "#000", "strokeWidth": 1.2}, "data": {"name": "boxes"}, "transform": [{"filter": "datum.t === 'Diluted crystals (x=0.37)'"}],
          "mark": {"type": "text", "font": "Lato", "fontSize": 25.5, "align": "center", "color": "#000"}, "encoding": {"text": {"field": "t"}}}
      ],
      "spacing": 0, "bounds": "flush"
    }
  ],
  "spacing": 3
}
